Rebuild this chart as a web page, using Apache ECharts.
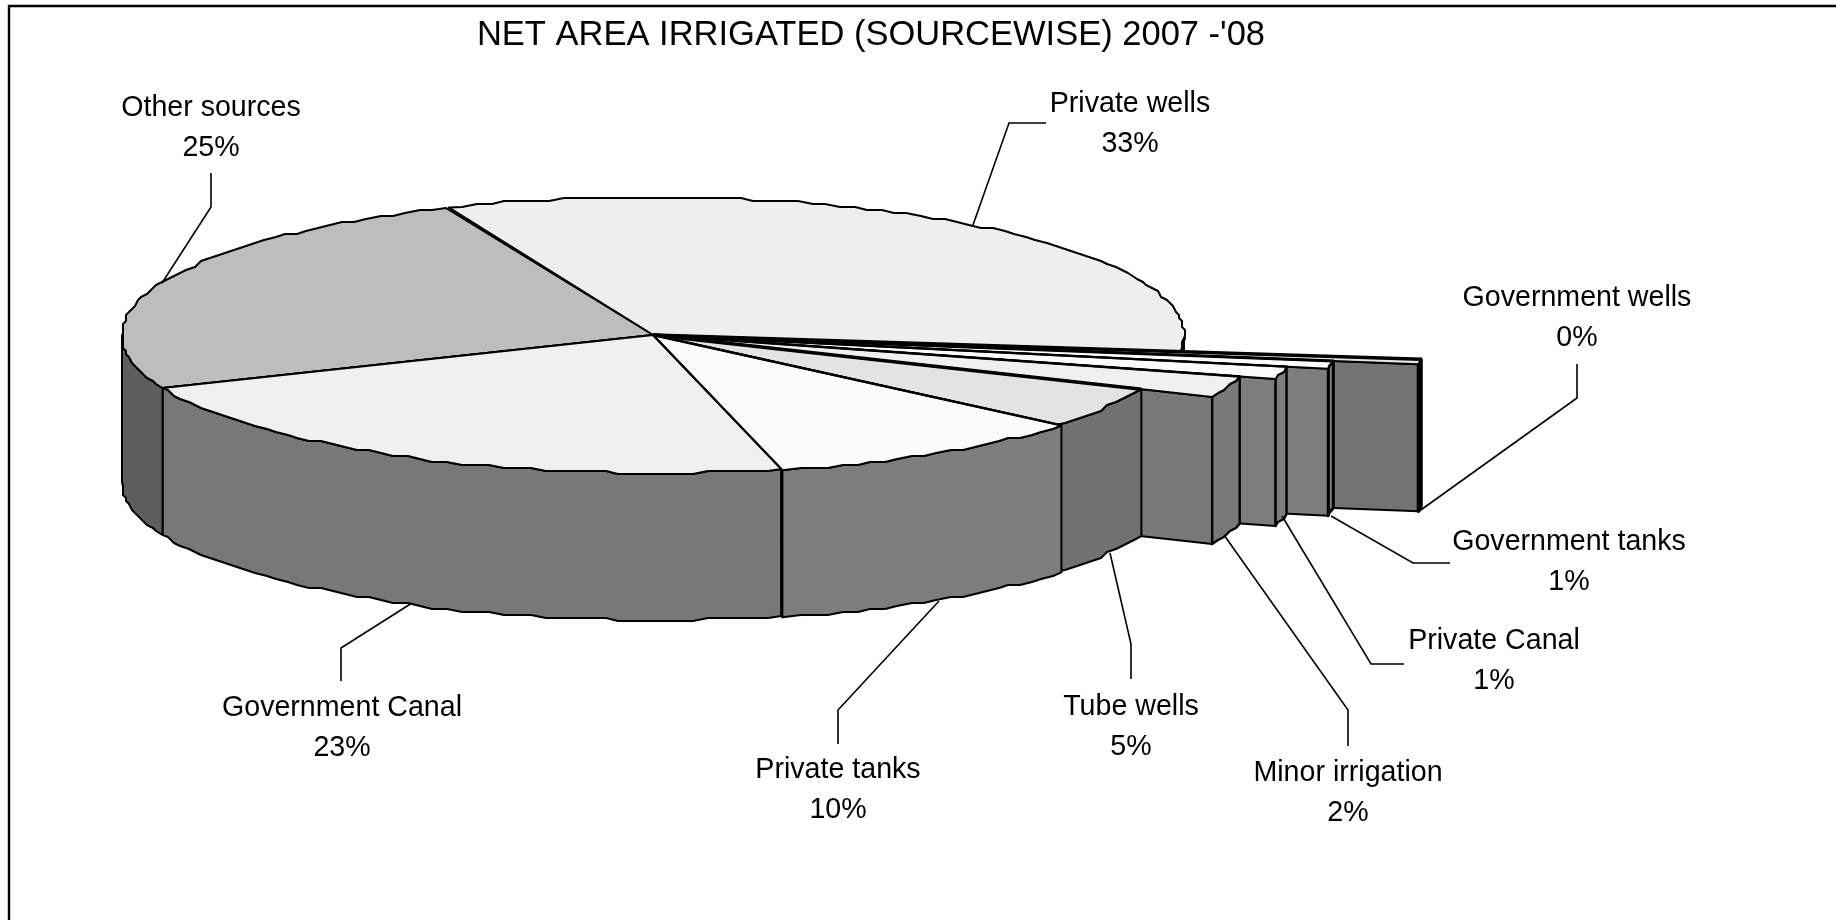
<!DOCTYPE html>
<html>
<head>
<meta charset="utf-8">
<title>Net area irrigated</title>
<style>
  html, body { margin: 0; padding: 0; background: #fff; }
  #chart { width: 1836px; height: 920px; }
</style>
<script src="https://cdn.jsdelivr.net/npm/echarts@6/dist/echarts.min.js"></script>
</head>
<body>
<div id="chart"></div>
<script>
// data, clockwise from the back of the pie
var categories = ['Private wells', 'Government wells', 'Government tanks', 'Private Canal', 'Minor irrigation', 'Tube wells', 'Private tanks', 'Government Canal', 'Other sources'];
var shares = [33.2, 0.4, 0.7, 1.2, 2.2, 4.8, 9.9, 22.6, 24.9];

// looks of each slice
var topColors = ['#eeeeee', '#e6e6e6', '#fbfbfb', '#fbfbfb', '#f0f0f0', '#e3e3e3', '#fbfbfb', '#f0f0f0', '#bdbdbd'];
var sliceReach = [1, 1.457, 1.295, 1.215, 1.145, 1, 1.01, 1, 1];
var edgeWidths = [1, 3.5, 3, 2.4, 2.4, 3.4, 2.4, 2, 2];
var drawOrder = [0, 8, 1, 2, 3, 4, 5, 6, 7];

// label centres and leader lines, same order as categories
var labelCentres = [[1130, 104], [1577, 298], [1569, 542], [1494, 641], [1348, 773], [1131, 707], [838, 770], [342, 708], [211, 108]];
var leaderLines = [
  [[1046, 123], [1009, 123], [973, 225]],
  [[1577, 364], [1577, 398], [1418, 512]],
  [[1450, 563], [1413, 563], [1331, 516]],
  [[1404, 664], [1371, 664], [1282, 516]],
  [[1348, 746], [1348, 710], [1224, 535]],
  [[1131, 679], [1131, 644], [1110, 553]],
  [[838, 744], [838, 710], [939, 601]],
  [[341, 681], [341, 648], [412, 603]],
  [[211, 173], [211, 207], [162, 283]]
];

var cx = 653, cy = 335, rx = 531, ry = 138, depth = 147;
var startAngle = -22.6;

var FONT = '"Liberation Sans", Arial, sans-serif';

// cumulative angles from the shares
var angles = [];
var run = startAngle;
shares.forEach(function (v) {
  angles.push([run, run + v * 3.6]);
  run += v * 3.6;
});

function rimPoint(deg, k) {
  var a = deg * Math.PI / 180;
  return [cx + rx * k * Math.sin(a), cy - ry * k * Math.cos(a)];
}

// the rim has the stepped look of the original, so points snap to a coarse grid
function rimPath(a0, a1, k) {
  var pts = [rimPoint(a0, k)];
  var step = 1.6;
  for (var d = a0 + step; d < a1 - step / 2; d += step) {
    var p = rimPoint(d, k);
    pts.push([Math.round(p[0] / 3) * 3, Math.round(p[1] / 3) * 3]);
  }
  pts.push(rimPoint(a1, k));
  return pts;
}

function halfColor(hex) {
  var v = parseInt(hex.slice(1, 3), 16) >> 1;
  return 'rgb(' + v + ',' + v + ',' + v + ')';
}

function shifted(pts) {
  return pts.map(function (p) { return [p[0], p[1] + depth]; });
}

function poly(points, fill, width) {
  return {
    type: 'polygon',
    shape: { points: points },
    style: { fill: fill, stroke: '#000', lineWidth: width || 2, lineJoin: 'round' }
  };
}

function renderSlice(params, api) {
  var i = api.value(0);
  var a0 = angles[i][0], a1 = angles[i][1], k = sliceReach[i];
  var side = halfColor(topColors[i]);
  var children = [];

  // cut face along the lower edge, right half only
  if (a1 > 90 && a1 < 180) {
    var tip = rimPoint(a1, k);
    children.push(poly([[cx, cy], tip, [tip[0], tip[1] + depth], [cx, cy + depth]], side));
  }
  // outer wall, only the part facing the viewer
  var f0 = Math.max(a0, 90), f1 = Math.min(a1, 270);
  if (f1 > f0) {
    var wall = rimPath(f0, f1, k);
    children.push(poly(wall.concat(shifted(wall).reverse()), side, k > 1.1 ? edgeWidths[i] : 2));
  }
  // top, with its leading edge drawn again at the slice's own weight
  children.push(poly([[cx, cy]].concat(rimPath(a0, a1, k)), topColors[i]));
  var lead = rimPoint(a0, k);
  children.push({
    type: 'line',
    shape: { x1: cx, y1: cy, x2: lead[0], y2: lead[1] },
    style: { stroke: '#000', lineWidth: edgeWidths[i] }
  });
  return { type: 'group', children: children };
}

function renderLabel(params, api) {
  var i = api.value(0);
  var c = labelCentres[i];
  return {
    type: 'group',
    children: [
      {
        type: 'polyline',
        shape: { points: leaderLines[i] },
        style: { fill: null, stroke: '#000', lineWidth: 1.6 }
      },
      {
        type: 'text',
        style: { x: c[0], y: c[1], text: categories[i], fill: '#000', font: '28.6px ' + FONT, textAlign: 'center', textVerticalAlign: 'middle' }
      },
      {
        type: 'text',
        style: { x: c[0], y: c[1] + 40, text: Math.round(shares[i]) + '%', fill: '#000', font: '28.6px ' + FONT, textAlign: 'center', textVerticalAlign: 'middle' }
      }
    ]
  };
}

var chart = echarts.init(document.getElementById('chart'));
chart.setOption({
  animation: false,
  backgroundColor: '#fff',
  title: {
    text: "NET AREA IRRIGATED (SOURCEWISE) 2007 -'08",
    left: 866,
    top: 13,
    textAlign: 'center',
    textStyle: { fontFamily: FONT, fontSize: 34.5, fontWeight: 'normal', color: '#000' }
  },
  graphic: [{
    type: 'polyline',
    silent: true,
    shape: { points: [[9, 920], [9, 6], [1836, 6]] },
    style: { fill: null, stroke: '#000', lineWidth: 2.4 }
  }],
  series: [
    {
      type: 'custom',
      coordinateSystem: 'none',
      silent: true,
      renderItem: renderSlice,
      data: drawOrder.map(function (i) { return [i, shares[i]]; })
    },
    {
      type: 'custom',
      coordinateSystem: 'none',
      silent: true,
      z: 3,
      renderItem: renderLabel,
      data: categories.map(function (c, i) { return [i, shares[i]]; })
    }
  ]
});
</script>
</body>
</html>
